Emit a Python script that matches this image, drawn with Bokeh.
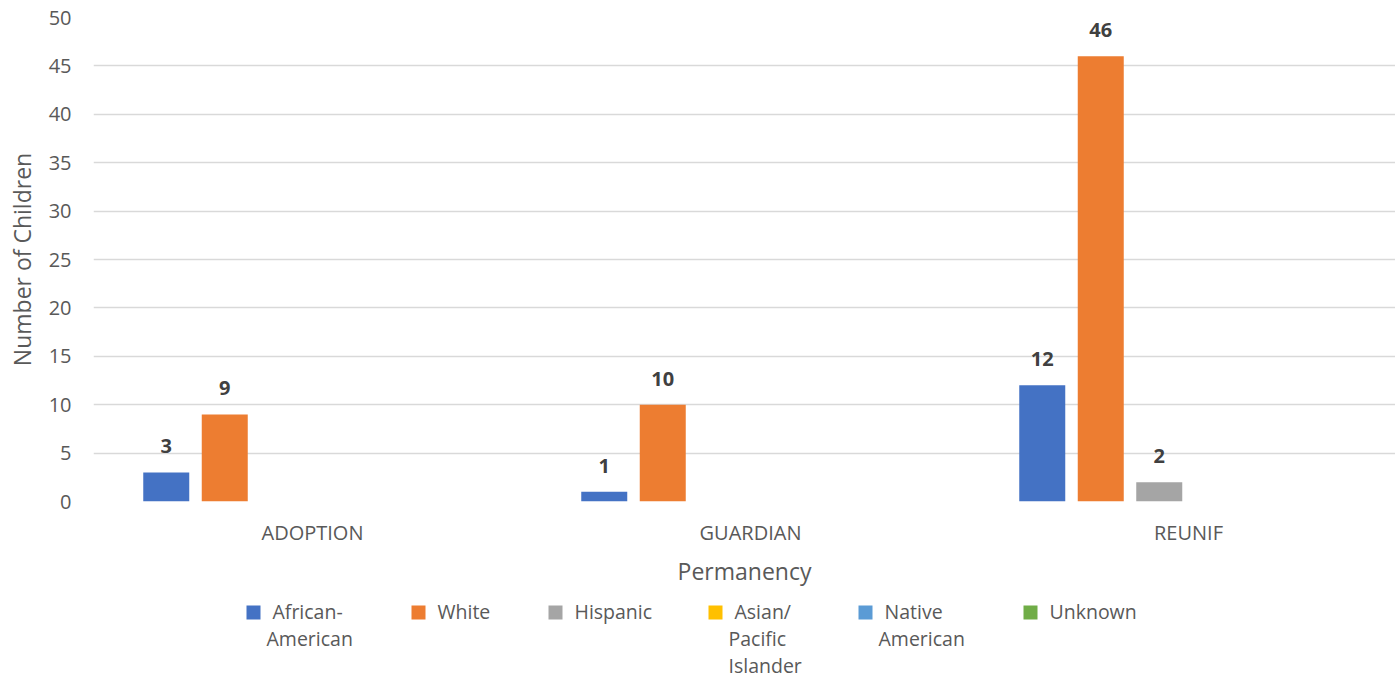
from bokeh.plotting import figure
from bokeh.layouts import column
from bokeh.models import ColumnDataSource, Range1d, FixedTicker
from bokeh.core.properties import value
from bokeh.embed import file_html
from bokeh.resources import INLINE

categories = ["ADOPTION", "GUARDIAN", "REUNIF"]
series_names = ["African-\nAmerican", "White", "Hispanic", "Asian/\nPacific\nIslander",
                "Native\nAmerican", "Unknown"]
colors = ["#4472C4", "#ED7D31", "#A5A5A5", "#FFC000", "#5B9BD5", "#70AD47"]
african_american = [3, 1, 12]
white = [9, 10, 46]
hispanic = [0, 0, 2]
asian_pacific = [0, 0, 0]
native_american = [0, 0, 0]
unknown = [0, 0, 0]
y_ticks = [0, 5, 10, 15, 20, 25, 30, 35, 40, 45, 50]

all_series = [african_american, white, hispanic, asian_pacific, native_american, unknown]

FONT = "Open Sans"
TEXT = "#595959"

# layout (pixels)
FIG_W = 1395
FRAME_L = 93
FRAME_W = FIG_W - FRAME_L
FRAME_H = 484
TOP, BOTTOM = 17, 89
LEG_H = 89
Y_MAX = 50
cat_w = 438.0
x_end = FRAME_W / cat_w
slot = 58.5 / cat_w
bar_w = 46.0 / cat_w

p = figure(width=FIG_W, height=TOP + FRAME_H + BOTTOM, output_backend="svg",
           toolbar_location=None,
           x_range=Range1d(0, x_end), y_range=Range1d(0, Y_MAX),
           min_border_left=FRAME_L, min_border_right=0, min_border_top=TOP,
           min_border_bottom=BOTTOM)
p.outline_line_color = None
p.background_fill_color = "white"
p.border_fill_color = "white"

lx, ly, lt = [], [], []
for j, (vals, col) in enumerate(zip(all_series, colors)):
    xs = [i + 0.5 + (j - 2.5) * slot for i in range(len(categories))]
    src = ColumnDataSource(dict(x=xs, top=vals))
    p.vbar(x="x", top="top", width=bar_w, source=src, fill_color=col, line_color=None)
    for x, v in zip(xs, vals):
        if v:
            lx.append(x); ly.append(v); lt.append(str(v))

p.text(x=lx, y=ly, text=lt, text_align="center", text_baseline="middle", y_offset=-26,
       text_font=value(FONT), text_font_size="20px", text_font_style="bold",
       text_color="#404040")

# axes
p.xaxis.ticker = FixedTicker(ticks=[i + 0.5 for i in range(len(categories))])
p.xaxis.major_label_overrides = {i + 0.5: c for i, c in enumerate(categories)}
p.xaxis.axis_label = "Permanency"
p.yaxis.ticker = FixedTicker(ticks=y_ticks)
p.yaxis.axis_label = "Number of Children"
for ax in (p.xaxis, p.yaxis):
    ax.axis_line_color = None
    ax.major_tick_line_color = None
    ax.minor_tick_line_color = None
    ax.major_tick_out = 0
    ax.major_tick_in = 0
    ax.minor_tick_out = 0
    ax.major_label_text_font = FONT
    ax.major_label_text_font_size = "20px"
    ax.major_label_text_color = TEXT
    ax.axis_label_text_font = FONT
    ax.axis_label_text_font_size = "23px"
    ax.axis_label_text_font_style = "normal"
    ax.axis_label_text_color = TEXT
p.yaxis.major_label_standoff = 22
p.yaxis.axis_label_standoff = 8
p.xaxis.major_label_standoff = 17
p.xaxis.axis_label_standoff = 6

p.xgrid.grid_line_color = None
p.ygrid.grid_line_color = "#D9D9D9"
p.ygrid.grid_line_width = 1.5

# legend panel: x in pixels from the (aligned) plot frame's left edge, y downwards
lg = figure(width=FIG_W, height=LEG_H, output_backend="svg", toolbar_location=None,
            x_range=Range1d(0, FRAME_W), y_range=Range1d(LEG_H, 0),
            min_border_left=FRAME_L, min_border_right=0, min_border_top=0,
            min_border_bottom=0, x_axis_type=None, y_axis_type=None)
lg.outline_line_color = None
lg.xgrid.grid_line_color = None
lg.ygrid.grid_line_color = None
lg.border_fill_color = "white"

leg_left = [153, 318, 455, 615, 765, 930]
sq = 14
sq_y = 15 + sq / 2
text_y0 = 21
line_step = 27
lg.rect(x=[l + sq / 2 for l in leg_left], y=[sq_y] * len(leg_left), width=sq, height=sq,
        fill_color=colors, line_color=None)
tx, ty, tt = [], [], []
for name, lft in zip(series_names, leg_left):
    for k, line in enumerate(name.split("\n")):
        tx.append(lft + sq + (12 if k == 0 else 6))
        ty.append(text_y0 + k * line_step)
        tt.append(line)
lg.text(x=tx, y=ty, text=tt, text_align="left", text_baseline="middle",
        text_font=value(FONT), text_font_size="19.5px", text_color=TEXT)

layout = column(p, lg, spacing=0)
open("out.html", "w").write(file_html(layout, INLINE))
